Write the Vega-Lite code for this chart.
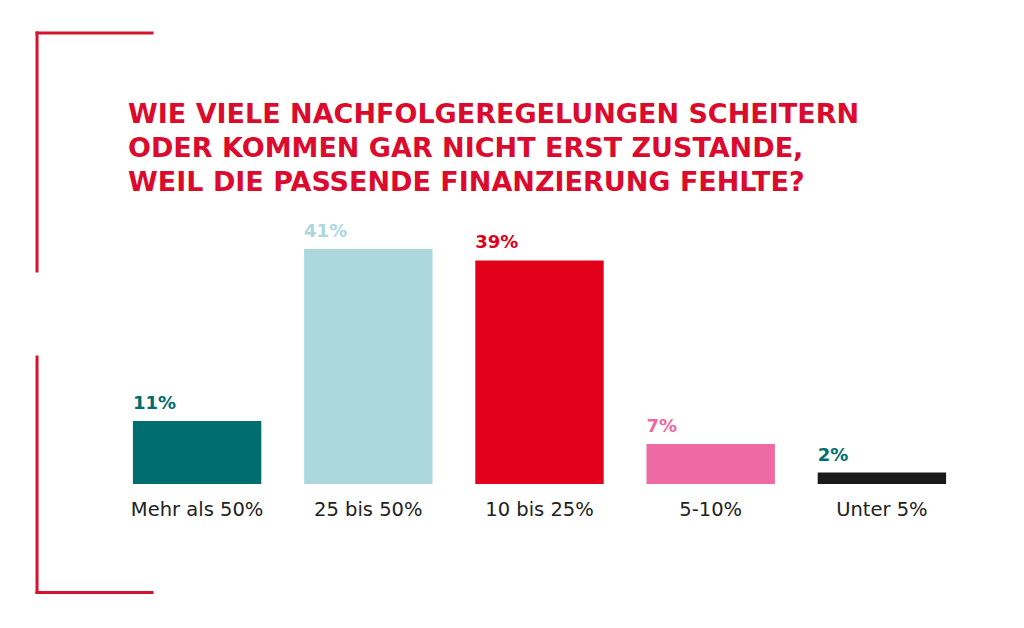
{
  "$schema": "https://vega.github.io/schema/vega-lite/v6.json",
  "width": 856,
  "height": 235,
  "autosize": "none",
  "padding": {"left": 111.5, "top": 249, "right": 56.5, "bottom": 144},
  "background": "white",
  "config": {"view": {"stroke": null}},
  "title": {
    "text": [
      "WIE VIELE NACHFOLGEREGELUNGEN SCHEITERN",
      "ODER KOMMEN GAR NICHT ERST ZUSTANDE,",
      "WEIL DIE PASSENDE FINANZIERUNG FEHLTE?"
    ],
    "anchor": "start",
    "frame": "group",
    "font": "DejaVu Sans",
    "fontSize": 27,
    "fontWeight": "bold",
    "color": "#dc0a2d",
    "lineHeight": 34,
    "baseline": "alphabetic",
    "dx": 16.5,
    "offset": -187
  },
  "datasets": {
    "answers": [
      {"kategorie": "Mehr als 50%", "anteil": 11},
      {"kategorie": "25 bis 50%", "anteil": 41},
      {"kategorie": "10 bis 25%", "anteil": 39},
      {"kategorie": "5-10%", "anteil": 7},
      {"kategorie": "Unter 5%", "anteil": 2}
    ],
    "bracket": [
      {"x": -0.0870, "x2": 0.0473, "y": 78.69, "y2": 78.69},
      {"x": -0.0870, "x2": -0.0870, "y": 78.69, "y2": 37.16},
      {"x": -0.0870, "x2": -0.0870, "y": 22.16, "y2": -18.93},
      {"x": -0.0870, "x2": 0.0473, "y": -18.93, "y2": -18.93}
    ]
  },
  "layer": [
    {
      "data": {"name": "answers"},
      "transform": [{"calculate": "datum.anteil + '%'", "as": "beschriftung"}],
      "layer": [
        {
          "mark": {"type": "bar"},
          "encoding": {
            "x": {
              "field": "kategorie",
              "type": "nominal",
              "sort": null,
              "scale": {"paddingInner": 0.25, "paddingOuter": 0.125},
              "axis": {
                "title": null,
                "domain": false,
                "ticks": false,
                "labelAngle": 0,
                "labelFont": "DejaVu Sans",
                "labelFontSize": 19.5,
                "labelColor": "#222222",
                "labelPadding": 16.5
              }
            },
            "y": {
              "field": "anteil",
              "type": "quantitative",
              "scale": {"domain": [0, 41], "nice": false},
              "axis": null
            },
            "color": {
              "field": "kategorie",
              "type": "nominal",
              "scale": {
                "domain": ["Mehr als 50%", "25 bis 50%", "10 bis 25%", "5-10%", "Unter 5%"],
                "range": ["#006e6e", "#acd8dd", "#e2001a", "#ee6aa2", "#1a1a1a"]
              },
              "legend": null
            }
          }
        },
        {
          "mark": {
            "type": "text",
            "align": "left",
            "baseline": "alphabetic",
            "dy": -12,
            "font": "DejaVu Sans",
            "fontSize": 18,
            "fontWeight": "bold"
          },
          "encoding": {
            "x": {"field": "kategorie", "type": "nominal", "sort": null, "bandPosition": 0},
            "y": {"field": "anteil", "type": "quantitative"},
            "text": {"field": "beschriftung", "type": "nominal"},
            "color": {
              "field": "kategorie",
              "type": "nominal",
              "scale": {
                "domain": ["Mehr als 50%", "25 bis 50%", "10 bis 25%", "5-10%", "Unter 5%"],
                "range": ["#006e6e", "#acd8dd", "#e2001a", "#ee6aa2", "#006e6e"]
              },
              "legend": null
            }
          }
        }
      ],
      "resolve": {"scale": {"color": "independent"}}
    },
    {
      "data": {"name": "bracket"},
      "mark": {"type": "rule", "color": "#d5132f", "strokeWidth": 3, "strokeCap": "square"},
      "encoding": {
        "x": {
          "field": "x",
          "type": "quantitative",
          "scale": {"domain": [0, 1], "nice": false, "zero": false},
          "axis": null
        },
        "x2": {"field": "x2"},
        "y": {"field": "y", "type": "quantitative"},
        "y2": {"field": "y2"}
      }
    }
  ],
  "resolve": {"scale": {"x": "independent"}}
}
